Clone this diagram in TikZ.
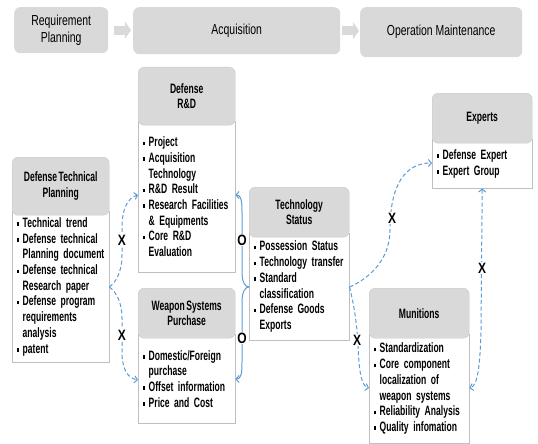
\documentclass[tikz,border=0pt]{standalone}
\usepackage{fontspec}
\setmainfont{Liberation Sans}
\newfontfamily\boxfont{Liberation Sans}[FakeStretch=0.63,WordSpace=0.65]
\newfontfamily\stagefont{Liberation Sans}[FakeStretch=0.72]
\newfontfamily\tagfont{Liberation Sans}[FakeStretch=0.8]
\usetikzlibrary{arrows.meta}
\definecolor{hdrgray}{HTML}{D9D9D9}
\definecolor{bodyedge}{HTML}{BFBFBF}
\definecolor{linkblue}{HTML}{5B9BD5}
\newcommand\sq{\makebox[6pt][l]{\rule[1.5pt]{2.5pt}{3.5pt}}}
\newcommand\ind{\hspace*{6pt}}
\begin{document}
\begin{tikzpicture}[x=1pt,y=-1pt,
  >={Straight Barb[length=3pt,width=7pt]},
  stage/.style={fill=hdrgray,rounded corners=6pt,anchor=north west,inner sep=0pt,align=center,
    font=\stagefont\fontsize{14.5}{16.5}\selectfont},
  hdr/.style={fill=hdrgray,draw=hdrgray!92!black,rounded corners=6pt,anchor=north west,inner sep=0pt,
    align=center,font=\boxfont\bfseries\fontsize{13.6}{15.7}\selectfont},
  body/.style={fill=white,draw=bodyedge,anchor=north west,inner xsep=4.5pt,inner ysep=0pt,align=left,
    font=\boxfont\bfseries\fontsize{13.6}{15.7}\selectfont},
  flow/.style={draw=hdrgray,line width=9pt,-{Triangle[length=6pt,width=17pt]}},
  link/.style={draw=linkblue,line width=1pt},
  dashlink/.style={link,dash pattern=on 4pt off 2.5pt},
  tag/.style={fill=white,inner sep=0.5pt,font=\tagfont\bfseries\fontsize{15}{15}\selectfont}]
\useasboundingbox (0,0) rectangle (538,444);
% stages
\node[stage,minimum width=94pt,minimum height=46pt] (req) at (14,7) {Requirement\\Planning};
\node[stage,minimum width=207pt,minimum height=47pt] (acq) at (133,7) {Acquisition};
\node[stage,minimum width=162pt,minimum height=50pt] (opm) at (360,7) {Operation Maintenance};
\draw[flow] ([xshift=6pt]req.east) -- ([xshift=-2pt]req.east -| acq.west);
\draw[flow] ([xshift=2pt]acq.east) -- ([xshift=-1pt]acq.east -| opm.west);
% boxes
\node[body,text width=88pt,minimum height=151pt] (tp) at (12,211) {\sq Technical trend\\
  \sq Defense technical\\ \ind Planning document\\
  \sq Defense technical\\ \ind Research paper\\
  \sq Defense program\\ \ind requirements\\ \ind analysis\\
  \sq patent};
\node[body,text width=88pt,minimum height=151pt] (rd) at (138,121) {\sq Project\\
  \sq Acquisition\\ \ind Technology\\
  \sq R\&D Result\\
  \sq Research Facilities\\ \ind \& Equipments\\
  \sq Core R\&D\\ \ind Evaluation};
\node[body,text width=88pt,minimum height=89pt] (wp) at (138,334) {\sq Domestic/Foreign\\ \ind purchase\\
  \sq Offset information\\
  \sq Price and Cost};
\node[body,text width=91pt,minimum height=107pt] (ts) at (249,233) {\sq Possession Status\\
  \sq Technology transfer\\
  \sq Standard\\ \ind classification\\
  \sq Defense Goods\\ \ind Exports};
\node[body,text width=91pt,minimum height=49pt] (ex) at (432,139) {\sq Defense Expert\\
  \sq Expert Group};
\node[body,text width=91pt,minimum height=109pt] (mu) at (369,334) {\sq Standardization\\
  \sq Core component\\ \ind localization of\\ \ind weapon systems\\
  \sq Reliability Analysis\\
  \sq Quality infomation};
\node[hdr,minimum width=97pt,minimum height=58pt] (tph) at (12,157) {Defense Technical\\Planning};
\node[hdr,minimum width=97pt,minimum height=58pt] (rdh) at (138,67) {Defense\\R\&D};
\node[hdr,minimum width=97pt,minimum height=50pt] (wph) at (138,288) {Weapon Systems\\Purchase};
\node[hdr,minimum width=100pt,minimum height=50pt] (tsh) at (249,187) {Technology\\Status};
\node[hdr,minimum width=100pt,minimum height=50pt] (exh) at (432,93) {Experts};
\node[hdr,minimum width=100pt,minimum height=50pt] (muh) at (369,288) {Munitions};
% links
\coordinate (jl) at (tp.east |- 0,287);
\coordinate (jr) at (ts.west |- 0,287);
\coordinate (jt) at (ts.east |- 0,287);
\draw[dashlink,->] (jl) .. controls (116,282) and (122,272) .. (122,255) -- (122,228)
  .. controls (122,210) and (127,198) .. (rd.west |- 0,195);
\draw[dashlink,->] (jl) .. controls (116,292) and (122,302) .. (122,318) -- (122,352)
  .. controls (122,368) and (127,378) .. (wp.west |- 0,380);
\draw[link,->] (jr) .. controls (245,287) and (242,282) .. (242,272) -- (242,212)
  .. controls (242,200) and (241,195) .. (rd.east |- 0,195);
\draw[link,->] (jr) .. controls (245,287) and (242,292) .. (242,302) -- (242,362)
  .. controls (242,374) and (241,379) .. (wp.east |- 0,379);
\draw[dashlink,->] (jt) .. controls (366,280) and (390,262) .. (390,230)
  .. controls (390,185) and (405,163) .. (ex.west |- 0,163);
\draw[dashlink,->] (jt) .. controls (353,300) and (357,322) .. (358,345)
  .. controls (359,370) and (361,386) .. (mu.west |- 0,388);
\draw[dashlink,<->] (ex.south) -- (481,330) .. controls (480,370) and (477,386) .. (mu.east |- 0,388);
\foreach \x/\y [count=\i] in {122/240, 122/335, 392/218, 482/268, 357/340}
  \node[tag] (x\i) at (\x,\y) {X};
\foreach \x/\y [count=\i] in {242/240, 242/338}
  \node[tag] (o\i) at (\x,\y) {O};
\end{tikzpicture}
\end{document}
